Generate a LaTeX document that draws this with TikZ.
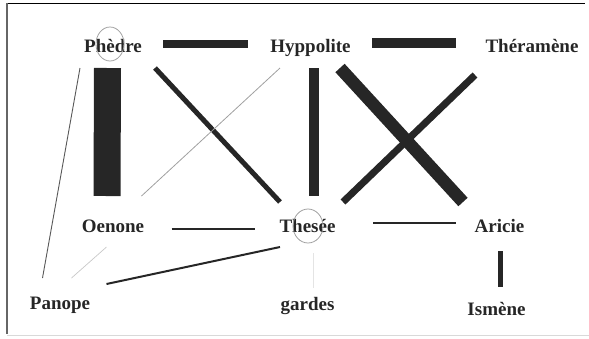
\documentclass[tikz,border=0pt]{standalone}
\usepackage{fontspec}
\setmainfont{Liberation Serif}
\usetikzlibrary{positioning}
\definecolor{inkdark}{RGB}{38,38,38}
\definecolor{inkgrey}{RGB}{160,160,160}
\definecolor{inklight}{RGB}{200,200,200}
\definecolor{inkfaint}{RGB}{228,228,228}

\begin{document}
\begin{tikzpicture}[
    x=1pt, y=-1pt,
    character/.style={font=\fontsize{19}{21}\selectfont\bfseries, text=inkdark, inner sep=0pt},
    tie/.style={draw=inkdark, line width=#1},
    weaktie/.style={line width=#1},
    mark circle/.style={draw=inkgrey, line width=0.8pt}
]
\useasboundingbox (0,0) rectangle (589,338);

% frame
\draw[black, line width=1pt] (7,3) -- (585,3);
\draw[black!60, line width=1.5pt] (7,3) -- (7,334);
\draw[black!15, line width=1pt] (7,335) -- (589,335);

% characters
\node[character, anchor=base] (phedre) at (113,52) {Phèdre};
\node[character, right=197.5pt of phedre.base, anchor=base] (hyppolite) {Hyppolite};
\node[character, right=221.5pt of hyppolite.base, anchor=base] (theramene) {Théramène};
\node[character, below=180pt of phedre.base, anchor=base] (oenone) {Oenone};
\node[character, below=180pt of hyppolite.base, xshift=-3pt, anchor=base] (thesee) {Thesée};
\node[character, right=192pt of thesee.base, anchor=base] (aricie) {Aricie};
\node[character, below left=77pt and 53pt of oenone.base, anchor=base] (panope) {Panope};
\node[character, below=78pt of thesee.base, anchor=base] (gardes) {gardes};
\node[character, below=83pt of aricie.base, xshift=-3pt, anchor=base] (ismene) {Ismène};

% highlighted characters
\draw[mark circle] ([shift={(-3,-8)}]phedre.base) ellipse [x radius=14, y radius=17];
\draw[mark circle] ([shift={(0.5,-6)}]thesee.base) ellipse [x radius=15, y radius=17];

% strong ties
\draw[tie=8pt] ([shift={(50,-8)}]phedre.base) -- ([shift={(-62.5,-8)}]hyppolite.base);
\draw[tie=10pt] ([shift={(61.5,-9)}]hyppolite.base) -- ([shift={(-76,-9)}]theramene.base);
\draw[tie=27pt] ([shift={(-5.5,16)}]phedre.base) -- ([shift={(-6,-36)}]oenone.base);
\draw[tie=10pt] ([shift={(3.5,16)}]hyppolite.base) -- ([shift={(6.5,-36)}]thesee.base);
\draw[tie=12.5pt] ([shift={(29.5,16)}]hyppolite.base) -- ([shift={(-36.5,-30)}]aricie.base);
\draw[tie=7pt] ([shift={(-57,23)}]theramene.base) -- ([shift={(35.5,-30)}]thesee.base);
\draw[tie=5pt] ([shift={(42,16)}]phedre.base) -- ([shift={(-27.5,-30)}]thesee.base);
\draw[tie=5pt] ([shift={(0.5,19)}]aricie.base) -- ([shift={(3.5,-28)}]ismene.base);

% thin ties
\draw[tie=2pt] ([shift={(58.5,-3)}]oenone.base) -- ([shift={(-52.5,-3)}]thesee.base);
\draw[tie=1.5pt] ([shift={(65.5,-9)}]thesee.base) -- ([shift={(-43.5,-9)}]aricie.base);
\draw[tie=2pt] ([shift={(-27.5,15)}]thesee.base) -- ([shift={(46.5,-25)}]panope.base);
\draw[weaktie=0.9pt, draw=black!65] ([shift={(-33,16)}]phedre.base) -- ([shift={(-17.5,-31)}]panope.base);
\draw[weaktie=0.8pt, draw=inkgrey] ([shift={(-30.5,16)}]hyppolite.base) -- ([shift={(28.5,-36)}]oenone.base);
\draw[weaktie=0.7pt, draw=inklight] ([shift={(-6.5,15)}]oenone.base) -- ([shift={(11.5,-31)}]panope.base);
\draw[weaktie=0.6pt, draw=inkfaint] ([shift={(5.5,21)}]thesee.base) -- ([shift={(5.5,-22)}]gardes.base);

\end{tikzpicture}
\end{document}
